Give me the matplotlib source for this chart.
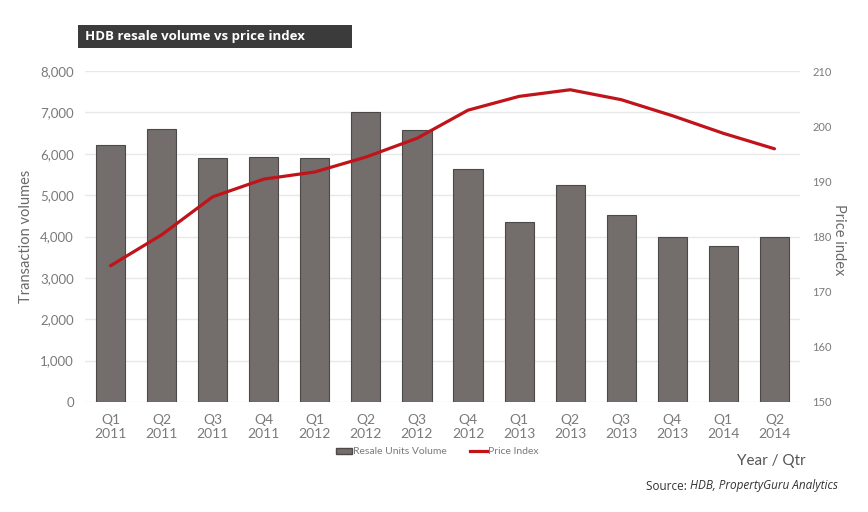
import matplotlib
matplotlib.use('Agg')
import matplotlib.pyplot as plt
from matplotlib.patches import Rectangle
from matplotlib.lines import Line2D

quarters = ['Q1\n2011', 'Q2\n2011', 'Q3\n2011', 'Q4\n2011',
            'Q1\n2012', 'Q2\n2012', 'Q3\n2012', 'Q4\n2012',
            'Q1\n2013', 'Q2\n2013', 'Q3\n2013', 'Q4\n2013',
            'Q1\n2014', 'Q2\n2014']
resale_volume = [6210, 6590, 5905, 5920, 5890, 7015, 6565, 5625,
                 4345, 5235, 4530, 3995, 3780, 3980]
price_index = [174.7, 180.3, 187.2, 190.4, 191.7, 194.4, 197.8, 202.9,
               205.4, 206.6, 204.8, 201.9, 198.7, 195.9]

vol_ticks = [0, 1000, 2000, 3000, 4000, 5000, 6000, 7000, 8000]
idx_ticks = [150, 160, 170, 180, 190, 200, 210]

FONT = ['Lato', 'DejaVu Sans']
TXT = '#7a7a7a'
BAR = '#736d6c'
RED = '#c0141a'

plt.rcParams['font.family'] = FONT

fig = plt.figure(figsize=(8.68, 5.12), dpi=100)
ax = fig.add_axes([85 / 868, 1 - 402 / 512, 715 / 868, 331 / 512])
ax2 = ax.twinx()

x = list(range(len(quarters)))
ax.bar(x, resale_volume, width=0.57, color=BAR, edgecolor='#4d4948',
       linewidth=0.8, zorder=3, label='Resale Units Volume')
ax2.plot(x, price_index, color=RED, linewidth=2.3, solid_capstyle='round',
         zorder=4, label='Price Index')

ax.set_xlim(-0.5, len(quarters) - 0.5)
ax.set_ylim(0, 8000)
ax.set_yticks(vol_ticks)
ax.set_yticklabels(['{:,}'.format(v) for v in vol_ticks])
ax.set_xticks(x)
ax.set_xticklabels(quarters, linespacing=1.15)
ax.grid(axis='y', color='#e8e8e8', linewidth=1.0, zorder=0)
ax.set_axisbelow(True)

ax2.set_ylim(150, 210)
ax2.set_yticks(idx_ticks)

for a in (ax, ax2):
    for s in a.spines.values():
        s.set_visible(False)
    a.tick_params(length=0, colors=TXT)
ax.tick_params(axis='y', labelsize=9.5, pad=8)
ax.tick_params(axis='x', labelsize=10, pad=9)
ax2.tick_params(axis='y', labelsize=8, pad=9)

ax.set_ylabel('Transaction volumes', fontsize=10.5, color='#6a6a6a')
ax.yaxis.set_label_coords(-0.073, 0.5)
ax2.set_ylabel('Price index', fontsize=10.5, color='#6a6a6a', rotation=270,
               va='center')
ax2.yaxis.set_label_coords(1.054, 0.49)

# title box
fig.patches.append(Rectangle((78 / 868, 1 - 48 / 512), 274 / 868, 23 / 512,
                             transform=fig.transFigure, facecolor='#3b3b3b',
                             edgecolor='none'))
fig.text(85 / 868, 1 - 36.5 / 512, 'HDB resale volume vs price index',
         color='white', fontsize=9.5, fontweight='bold', va='center',
         family=['Open Sans', 'DejaVu Sans'])

handles = [Rectangle((0, 0), 1, 1, facecolor=BAR, edgecolor='#4d4948'),
           Line2D([0], [0], color=RED, linewidth=2.3)]
fig.legend(handles, ['Resale Units Volume', 'Price Index'],
           loc='center', bbox_to_anchor=(437 / 868, 1 - 452 / 512), ncol=2,
           frameon=False, fontsize=7.5, labelcolor=TXT, handlelength=1.6,
           handleheight=0.6, handletextpad=0.1, columnspacing=2.2)

fig.text(806 / 868, 1 - 461 / 512, 'Year / Qtr', ha='right', va='center',
         fontsize=11, color='#555555')
fig.text(690 / 868, 1 - 486 / 512, 'Source: ', ha='right', va='center',
         fontsize=8.5, color='#333333', family=['Open Sans', 'DejaVu Sans'])
fig.text(690 / 868, 1 - 486 / 512, 'HDB, PropertyGuru Analytics', ha='left',
         va='center', fontsize=8.5, color='#333333', style='italic',
         family=['Open Sans', 'DejaVu Sans'])

fig.savefig('out.png', dpi=100, facecolor='white')
